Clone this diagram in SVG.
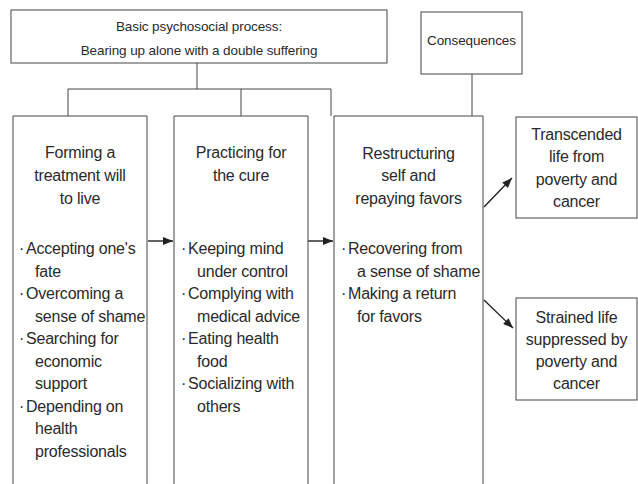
<svg xmlns="http://www.w3.org/2000/svg" width="638" height="484" viewBox="0 0 638 484">
<style>
.box{fill:#fff;stroke:#444;stroke-width:1}
.ln{fill:none;stroke:#444;stroke-width:1}
.ar{fill:none;stroke:#222;stroke-width:1.4}
text{font-family:"Liberation Sans",Arial,sans-serif;fill:#2a2a2a}
.h{font-size:13.5px;text-anchor:middle;letter-spacing:-0.1px}
.t{font-size:16px;text-anchor:middle;letter-spacing:-0.2px}
.b{font-size:16px;letter-spacing:-0.2px}
</style>
<defs>
<marker id="ah" viewBox="0 0 10 8" refX="10" refY="4" markerWidth="10" markerHeight="8" markerUnits="userSpaceOnUse" orient="auto">
<path d="M0,0 L10,4 L0,8 Z" fill="#222"/>
</marker>
</defs>
<rect width="638" height="484" fill="#fff"/>
<g id="connectors">
<path class="ln" d="M197,63 V89 M68,89 H331 M68,89 V116 M241,89 V116 M331,89 V116 M472,74 V117"/>
<line class="ar" x1="148" y1="241" x2="173" y2="241" marker-end="url(#ah)"/>
<line class="ar" x1="308" y1="241" x2="333" y2="241" marker-end="url(#ah)"/>
<line class="ar" x1="484" y1="207" x2="512" y2="178" marker-end="url(#ah)"/>
<line class="ar" x1="484" y1="300" x2="513" y2="328" marker-end="url(#ah)"/>
</g>
<g id="process">
<rect class="box" x="11" y="10" width="376" height="53"/>
<text class="h" x="199" y="31">Basic psychosocial process:</text>
<text class="h" x="199" y="55">Bearing up alone with a double suffering</text>
</g>
<g id="consequences">
<rect class="box" x="421" y="12" width="101" height="62"/>
<text class="h" x="471.5" y="44.5">Consequences</text>
</g>
<g id="forming">
<path class="box" d="M13,490 V116 H147 V490"/>
<text class="t" x="80" y="158">Forming a</text>
<text class="t" x="80" y="181">treatment will</text>
<text class="t" x="80" y="203.5">to live</text>
<text class="b" x="19" y="254">·</text><text class="b" x="26" y="254">Accepting one's</text>
<text class="b" x="35" y="276.5">fate</text>
<text class="b" x="19" y="299">·</text><text class="b" x="26" y="299">Overcoming a</text>
<text class="b" x="35" y="321.5">sense of shame</text>
<text class="b" x="19" y="344">·</text><text class="b" x="26" y="344">Searching for</text>
<text class="b" x="35" y="366.5">economic</text>
<text class="b" x="35" y="389">support</text>
<text class="b" x="19" y="411.5">·</text><text class="b" x="26" y="411.5">Depending on</text>
<text class="b" x="35" y="434">health</text>
<text class="b" x="35" y="456.5">professionals</text>
</g>
<g id="practicing">
<path class="box" d="M174,490 V116 H308 V490"/>
<text class="t" x="241" y="158">Practicing for</text>
<text class="t" x="241" y="181">the cure</text>
<text class="b" x="181" y="254">·</text><text class="b" x="188" y="254">Keeping mind</text>
<text class="b" x="197" y="276.5">under control</text>
<text class="b" x="181" y="299">·</text><text class="b" x="188" y="299">Complying with</text>
<text class="b" x="197" y="321.5">medical advice</text>
<text class="b" x="181" y="344">·</text><text class="b" x="188" y="344">Eating health</text>
<text class="b" x="197" y="366.5">food</text>
<text class="b" x="181" y="389">·</text><text class="b" x="188" y="389">Socializing with</text>
<text class="b" x="197" y="411.5">others</text>
</g>
<g id="restructuring">
<path class="box" d="M334,490 V116 H483 V490"/>
<text class="t" x="408.5" y="158.5">Restructuring</text>
<text class="t" x="408.5" y="181">self and</text>
<text class="t" x="408.5" y="203.5">repaying favors</text>
<text class="b" x="341" y="254">·</text><text class="b" x="348" y="254">Recovering from</text>
<text class="b" x="357" y="276.5">a sense of shame</text>
<text class="b" x="341" y="299">·</text><text class="b" x="348" y="299">Making a return</text>
<text class="b" x="357" y="321.5">for favors</text>
</g>
<g id="transcended">
<rect class="box" x="516" y="117" width="121" height="101"/>
<text class="t" x="576.5" y="140">Transcended</text>
<text class="t" x="576.5" y="162">life from</text>
<text class="t" x="576.5" y="185">poverty and</text>
<text class="t" x="576.5" y="207">cancer</text>
</g>
<g id="strained">
<rect class="box" x="516" y="298" width="121" height="102"/>
<text class="t" x="576.5" y="323">Strained life</text>
<text class="t" x="576.5" y="345">suppressed by</text>
<text class="t" x="576.5" y="367">poverty and</text>
<text class="t" x="576.5" y="389">cancer</text>
</g>
</svg>
